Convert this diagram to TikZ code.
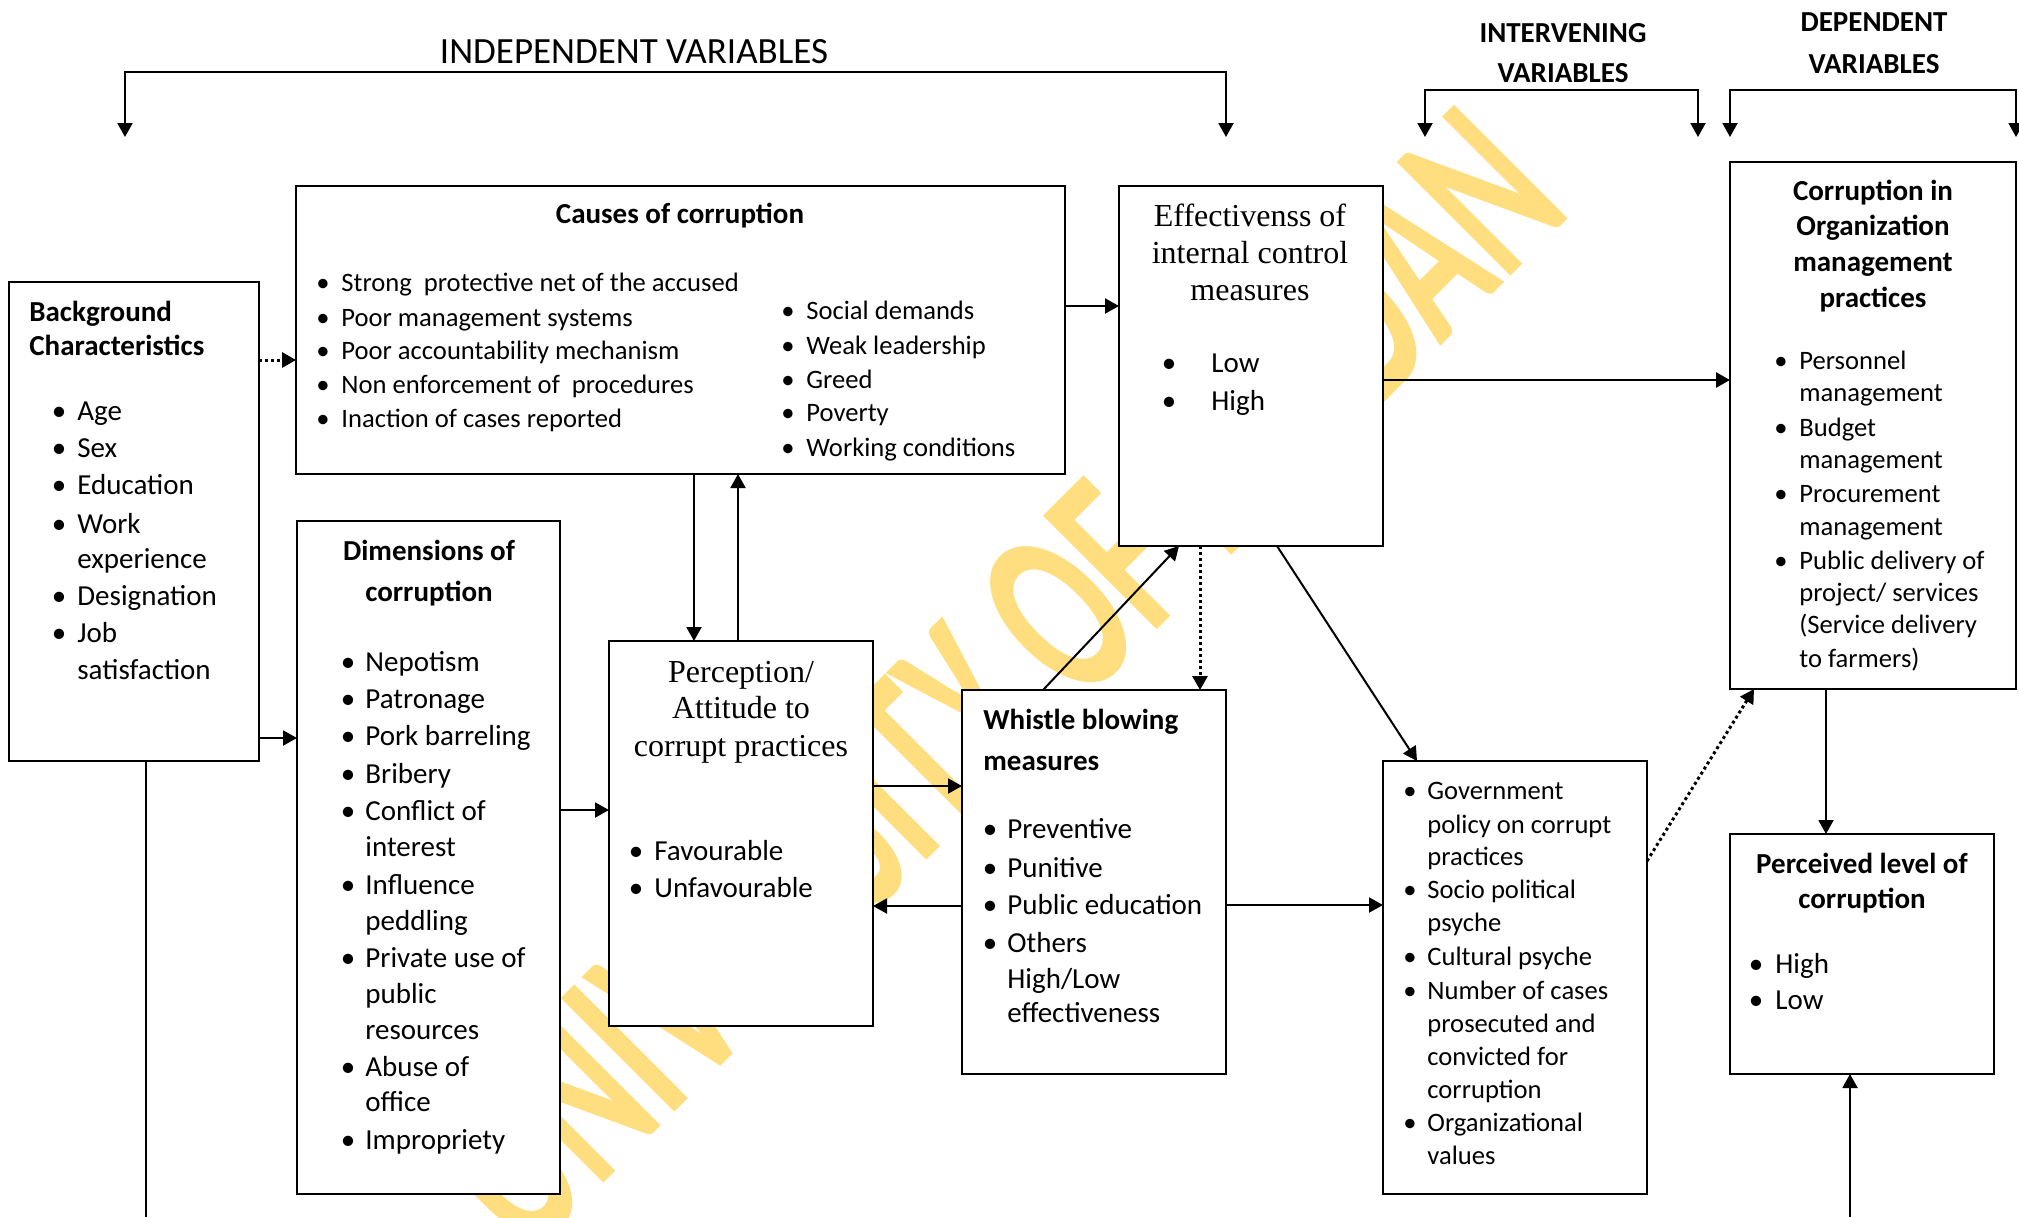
\documentclass[tikz,border=0pt]{standalone}
\usepackage{fontspec}
\setmainfont{Carlito}
\newfontfamily\seriffont{Liberation Serif}
\usetikzlibrary{arrows.meta}
\definecolor{wmyellow}{RGB}{255,222,128}
\newcommand\fbody{\fontsize{14.5}{17}\selectfont}
\newcommand\fsmall{\fontsize{13.3}{16}\selectfont}
\newcommand\fser{\seriffont\fontsize{16}{18}\selectfont}
\newcommand\fhead{\fontsize{18.5}{22}\selectfont}
\newcommand\fwm{\bfseries\fontsize{124}{130}\selectfont}
\tikzset{
 box/.style={draw, line width=1pt, fill=white, inner sep=0, outer sep=0, anchor=north west},
 txt/.style={anchor=base west, inner sep=0, font=\fbody},
 bul/.style={anchor=base, inner sep=0, font=\fbody},
 ttl/.style={anchor=base, inner sep=0, font=\fbody\bfseries},
 ttlw/.style={anchor=base west, inner sep=0, font=\fbody\bfseries},
 ser/.style={anchor=base, inner sep=0, font=\fser},
 arr/.style={line width=1pt, -{Triangle[length=7pt,width=7.5pt]}},
 darr/.style={line width=1.5pt, dash pattern=on 1.5pt off 1.5pt, -{Triangle[length=7pt,width=7.5pt]}},
 barr/.style={line width=1pt, {Triangle[length=7pt,width=7.5pt]}-{Triangle[length=7pt,width=7.5pt]}},
 wm/.style={inner sep=0, text=wmyellow, font=\fwm},
}
\newcommand\mkbox[5]{\node[box, minimum width={(#4-#2)*0.5pt}, minimum height={(#5-#3)*0.5pt}] (#1) at (#2,#3) {};}
\newcommand\bitem[5]{\node[bul] (#1b) at (#2,#4) {\textbullet}; \node[txt] (#1) at (#3,#4) {#5};}
\newcommand\tline[4]{\node[txt] (#1) at (#2,#3) {#4};}
\begin{document}
\begin{tikzpicture}[x=0.5pt, y=-0.5pt]
\fill[white] (0,0) rectangle (2019,1217);
\useasboundingbox (0,0) rectangle (2019,1217);

% watermark
\begin{scope}[shift={(1051,736)}]
\node[wm, rotate=45, xscale=0.606, anchor=base] (wmark) at (0,0) {UNIVERSITY OF IBADAN};
\end{scope}

% header
\node[anchor=base, inner sep=0, font=\fhead] (indep) at (634,63) {INDEPENDENT VARIABLES};
\node[ttl] (interv1) at (1563,42) {INTERVENING};
\node[ttl] (interv2) at (1563,82) {VARIABLES};
\node[ttl] (dep1) at (1874,31) {DEPENDENT};
\node[ttl] (dep2) at (1874,73) {VARIABLES};

\coordinate (ivL) at (125,137); \coordinate (ivR) at (1226,137);
\coordinate (inL) at (1425,137); \coordinate (inR) at (1698,137);
\coordinate (dpL) at (1730,137); \coordinate (dpR) at (2016,137);
\draw[barr] (ivL) -- (ivL |- 0,72) -- (ivR |- 0,72) -- (ivR);
\draw[barr] (inL) -- (inL |- 0,90) -- (inR |- 0,90) -- (inR);
\draw[barr] (dpL) -- (dpL |- 0,90) -- (dpR |- 0,90) -- (dpR);

% boxes
\mkbox{bg}{9}{282}{259}{761}
\mkbox{causes}{296}{186}{1065}{474}
\mkbox{eff}{1119}{186}{1383}{546}
\mkbox{corg}{1730}{162}{2016}{689}
\mkbox{dim}{297}{521}{560}{1194}
\mkbox{perc}{609}{641}{873}{1026}
\mkbox{wb}{962}{690}{1226}{1074}
\mkbox{gov}{1383}{761}{1647}{1194}
\mkbox{plev}{1730}{834}{1994}{1074}

% Background
\node[ttlw] (bgt1) at (29,321) {Background};
\node[ttlw] (bgt2) at (29,355) {Characteristics};
\bitem{bg1}{59}{77}{420}{Age}
\bitem{bg2}{59}{77}{457}{Sex}
\bitem{bg3}{59}{77}{494}{Education}
\bitem{bg4}{59}{77}{533}{Work}
\tline{bg4a}{77}{568}{experience}
\bitem{bg5}{59}{77}{605}{Designation}
\bitem{bg6}{59}{77}{642}{Job}
\tline{bg6a}{77}{679}{satisfaction}

% Causes
\node[ttl] (cst) at (680,223) {Causes of corruption};
\begin{scope}[txt/.append style={font=\fsmall}, bul/.append style={font=\fsmall}]
\bitem{cl1}{323}{341}{291}{Strong\ \ protective net of the accused}
\bitem{cl2}{323}{341}{326}{Poor management systems}
\bitem{cl3}{323}{341}{359}{Poor accountability mechanism}
\bitem{cl4}{323}{341}{393}{Non enforcement of\ \ procedures}
\bitem{cl5}{323}{341}{427}{Inaction of cases reported}
\bitem{cr1}{788}{806}{319}{Social demands}
\bitem{cr2}{788}{806}{354}{Weak leadership}
\bitem{cr3}{788}{806}{388}{Greed}
\bitem{cr4}{788}{806}{421}{Poverty}
\bitem{cr5}{788}{806}{456}{Working conditions}
\end{scope}

% Effectiveness
\node[ser] (eft1) at (1250,226) {Effectivenss of};
\node[ser] (eft2) at (1250,263) {internal control};
\node[ser] (eft3) at (1250,300) {measures};
\bitem{ef1}{1169}{1211}{372}{Low}
\bitem{ef2}{1169}{1211}{410}{High}

% Corruption in organization
\node[ttl] (cot1) at (1873,200) {Corruption in};
\node[ttl] (cot2) at (1873,235) {Organization};
\node[ttl] (cot3) at (1873,271) {management};
\node[ttl] (cot4) at (1873,307) {practices};
\begin{scope}[txt/.append style={font=\fsmall}, bul/.append style={font=\fsmall}]
\bitem{co1}{1781}{1799}{369}{Personnel}
\tline{co1a}{1799}{401}{management}
\bitem{co2}{1781}{1799}{436}{Budget}
\tline{co2a}{1799}{468}{management}
\bitem{co3}{1781}{1799}{502}{Procurement}
\tline{co3a}{1799}{535}{management}
\bitem{co4}{1781}{1799}{569}{Public delivery of}
\tline{co4a}{1799}{601}{project/ services}
\tline{co4b}{1799}{633}{(Service delivery}
\tline{co4c}{1799}{667}{to farmers)}
\end{scope}

% Dimensions
\node[ttl] (dmt1) at (429,560) {Dimensions of};
\node[ttl] (dmt2) at (429,601) {corruption};
\bitem{dm1}{348}{365}{671}{Nepotism}
\bitem{dm2}{348}{365}{708}{Patronage}
\bitem{dm3}{348}{365}{745}{Pork barreling}
\bitem{dm4}{348}{365}{783}{Bribery}
\bitem{dm5}{348}{365}{820}{Conflict of}
\tline{dm5a}{365}{856}{interest}
\bitem{dm6}{348}{365}{894}{Influence}
\tline{dm6a}{365}{930}{peddling}
\bitem{dm7}{348}{365}{967}{Private use of}
\tline{dm7a}{365}{1003}{public}
\tline{dm7b}{365}{1039}{resources}
\bitem{dm8}{348}{365}{1076}{Abuse of}
\tline{dm8a}{365}{1111}{office}
\bitem{dm9}{348}{365}{1149}{Impropriety}

% Perception
\node[ser] (pct1) at (741,682) {Perception/};
\node[ser] (pct2) at (741,718) {Attitude to};
\node[ser] (pct3) at (741,756) {corrupt practices};
\bitem{pc1}{636}{654}{860}{Favourable}
\bitem{pc2}{636}{654}{897}{Unfavourable}

% Whistle blowing
\node[ttlw] (wbt1) at (983,729) {Whistle blowing};
\node[ttlw] (wbt2) at (983,770) {measures};
\bitem{wb1}{990}{1007}{838}{Preventive}
\bitem{wb2}{990}{1007}{877}{Punitive}
\bitem{wb3}{990}{1007}{914}{Public education}
\bitem{wb4}{990}{1007}{952}{Others}
\tline{wb4a}{1007}{988}{High/Low}
\tline{wb4b}{1007}{1022}{effectiveness}

% Government
\begin{scope}[txt/.append style={font=\fsmall}, bul/.append style={font=\fsmall}]
\bitem{gv1}{1410}{1427}{799}{Government}
\tline{gv1a}{1427}{833}{policy on corrupt}
\tline{gv1b}{1427}{865}{practices}
\bitem{gv2}{1410}{1427}{898}{Socio political}
\tline{gv2a}{1427}{931}{psyche}
\bitem{gv3}{1410}{1427}{965}{Cultural psyche}
\bitem{gv4}{1410}{1427}{999}{Number of cases}
\tline{gv4a}{1427}{1032}{prosecuted and}
\tline{gv4b}{1427}{1065}{convicted for}
\tline{gv4c}{1427}{1098}{corruption}
\bitem{gv5}{1410}{1427}{1131}{Organizational}
\tline{gv5a}{1427}{1164}{values}
\end{scope}

% Perceived level
\node[ttl] (plt1) at (1862,873) {Perceived level of};
\node[ttl] (plt2) at (1862,908) {corruption};
\bitem{pl1}{1756}{1775}{973}{High}
\bitem{pl2}{1756}{1775}{1009}{Low}

% connectors
\draw[darr] (bg.east |- 0,360) -- (causes.west |- 0,360);
\draw[arr] (bg.east |- 0,738) -- (dim.west |- 0,738);
\coordinate (bgend) at (146,1217);
\draw[line width=1pt] (bg.south -| 146,0) -- (bgend);
\draw[arr] (causes.east |- 0,306) -- (eff.west |- 0,306);
\draw[arr] (causes.south -| 694,0) -- (perc.north -| 694,0);
\draw[arr] (perc.north -| 738,0) -- (causes.south -| 738,0);
\draw[arr] (dim.east |- 0,810) -- (perc.west |- 0,810);
\draw[arr] (perc.east |- 0,786) -- (wb.west |- 0,786);
\draw[arr] (wb.west |- 0,906) -- (perc.east |- 0,906);
\draw[arr] (wb.north -| 1043,0) -- (eff.south -| 1179,0);
\draw[darr] (eff.south -| 1200,0) -- (wb.north -| 1200,0);
\draw[arr] (eff.south -| 1277,0) -- (gov.north -| 1417,0);
\draw[arr, line width=1.3pt] (eff.east |- 0,380) -- (corg.west |- 0,380);
\draw[arr] (wb.east |- 0,905) -- (gov.west |- 0,905);
\draw[darr] (gov.east |- 0,861) -- (corg.south -| 1754,0);
\draw[arr] (corg.south -| 1826,0) -- (plev.north -| 1826,0);
\coordinate (plend) at (1850,1217);
\draw[arr] (plend) -- (plev.south -| 1850,0);
\end{tikzpicture}
\end{document}
